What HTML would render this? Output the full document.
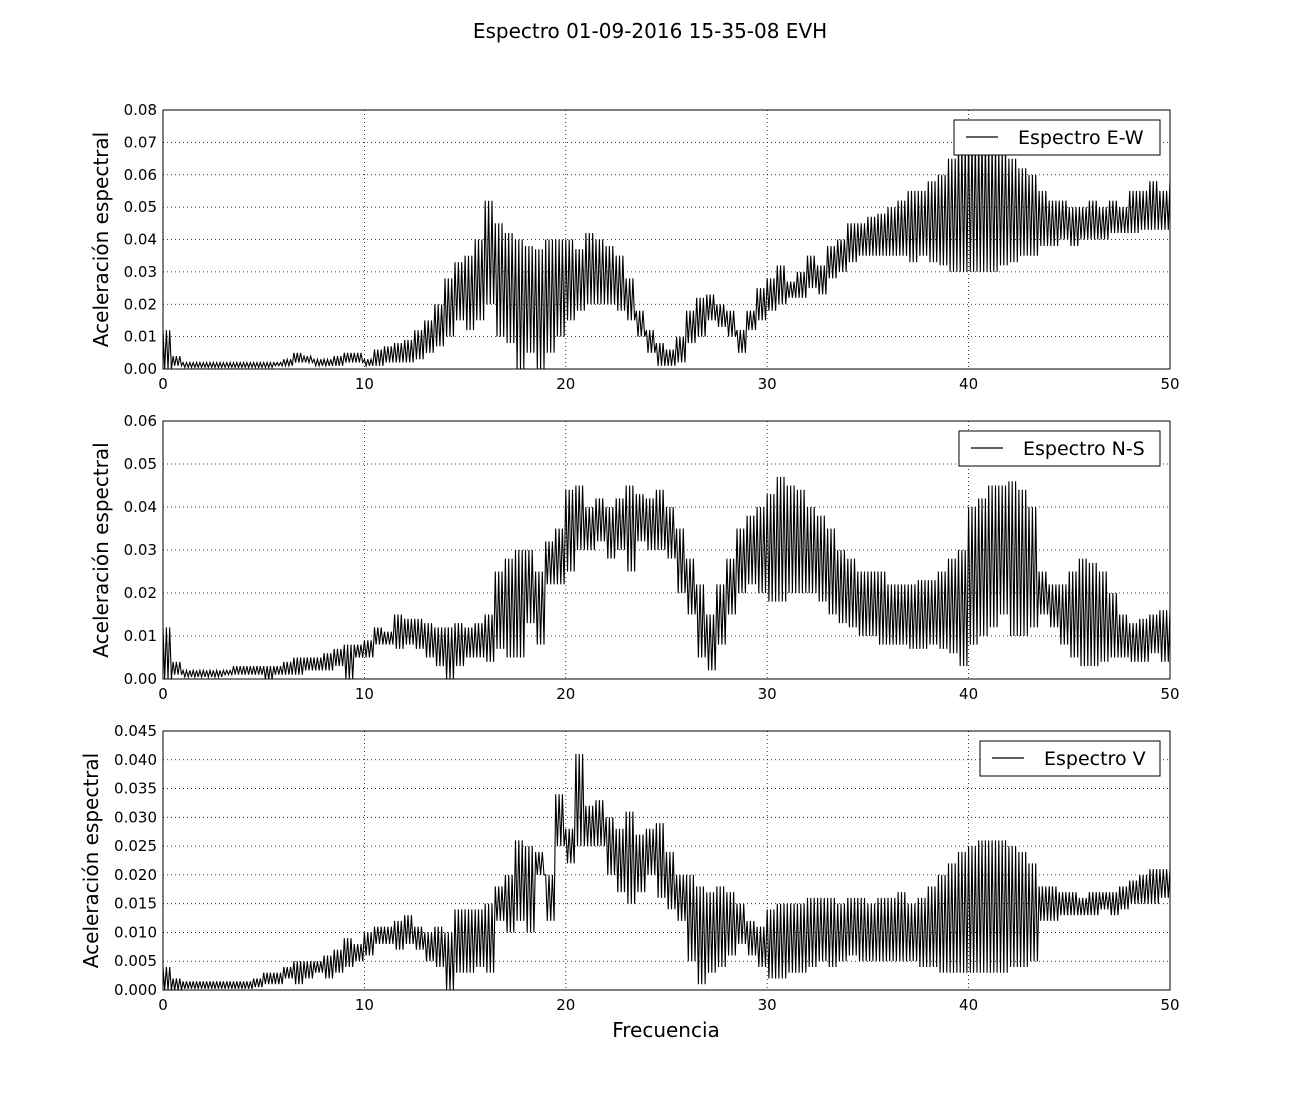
<!DOCTYPE html>
<html><head><meta charset="utf-8"><style>
body{margin:0;background:#fff;width:1300px;height:1100px;overflow:hidden}
svg text{font-family:"DejaVu Sans","Liberation Sans",sans-serif;fill:#000}
</style></head><body>
<svg id="chart" width="1300" height="1100" xmlns="http://www.w3.org/2000/svg">
<rect width="1300" height="1100" fill="#fff"/>
<text x="650" y="38" font-size="20" text-anchor="middle">Espectro 01-09-2016 15-35-08 EVH</text>
<text x="666" y="1037" font-size="20" text-anchor="middle">Frecuencia</text>
</svg>
<script>
const freqStep = 0.5;
const ewHi=[.012,.004,.002,.002,.002,.002,.002,.002,.002,.002,.002,.002,.003,.005,.004,.003,.003,.004,.005,.005,.003,.006,.007,.008,.009,.012,.015,.02,.028,.033,.035,.04,.052,.045,.042,.04,.038,.037,.04,.04,.04,.037,.042,.04,.038,.035,.028,.018,.012,.008,.006,.01,.018,.022,.023,.02,.018,.012,.018,.025,.028,.032,.027,.03,.035,.032,.038,.04,.045,.045,.047,.048,.05,.052,.055,.055,.058,.06,.065,.07,.072,.072,.07,.068,.065,.062,.06,.055,.052,.052,.05,.05,.052,.05,.052,.05,.055,.055,.058,.055,.058];
const ewLo=[0,.001,.0005,.0005,.0005,.0005,.0005,.0005,.0005,.0005,.0005,.001,.001,.002,.002,.001,.001,.001,.002,.002,.001,.001,.002,.002,.002,.003,.005,.007,.01,.015,.012,.015,.02,.01,.008,0,.005,0,.005,.01,.015,.018,.02,.02,.02,.018,.015,.01,.005,.001,.001,.002,.008,.01,.015,.013,.01,.005,.012,.015,.018,.02,.022,.022,.025,.023,.028,.03,.033,.035,.035,.035,.035,.035,.033,.035,.033,.032,.03,.03,.03,.03,.03,.032,.033,.035,.035,.038,.038,.04,.038,.04,.04,.04,.042,.042,.042,.043,.043,.043,.045];
const nsHi=[.012,.004,.002,.002,.002,.002,.002,.003,.003,.003,.003,.003,.004,.005,.005,.005,.006,.007,.008,.008,.009,.012,.011,.015,.014,.014,.013,.012,.012,.013,.012,.013,.015,.025,.028,.03,.03,.025,.032,.035,.044,.045,.04,.042,.04,.042,.045,.043,.042,.044,.04,.035,.028,.022,.015,.022,.028,.035,.038,.04,.043,.047,.045,.044,.04,.038,.035,.03,.028,.025,.025,.025,.022,.022,.022,.023,.023,.025,.028,.03,.04,.042,.045,.045,.046,.044,.04,.025,.022,.022,.025,.028,.027,.025,.02,.015,.013,.014,.015,.016,.016];
const nsLo=[0,.001,.0005,.0005,.0005,.0005,.001,.001,.001,.001,0,.001,.001,.001,.002,.002,.002,.003,0,.005,.005,.008,.008,.007,.008,.007,.005,.003,0,.003,.005,.005,.004,.007,.005,.005,.013,.008,.022,.022,.025,.03,.03,.032,.028,.03,.025,.032,.03,.03,.028,.02,.015,.005,.002,.008,.015,.02,.022,.02,.018,.018,.02,.02,.02,.018,.015,.013,.012,.01,.01,.008,.008,.008,.007,.007,.008,.007,.006,.003,.008,.01,.012,.015,.01,.01,.012,.015,.012,.008,.005,.003,.003,.004,.005,.005,.004,.004,.006,.004,.003];
const vHi=[.004,.002,.0015,.0015,.0015,.0015,.0015,.0015,.0015,.002,.003,.003,.004,.005,.005,.005,.006,.007,.009,.008,.01,.011,.011,.012,.013,.011,.01,.011,.01,.014,.014,.014,.015,.018,.02,.026,.025,.024,.02,.034,.028,.041,.032,.033,.03,.028,.031,.027,.028,.029,.024,.02,.02,.018,.017,.018,.017,.015,.012,.011,.014,.015,.015,.015,.016,.016,.016,.015,.016,.016,.015,.016,.016,.017,.015,.016,.018,.02,.022,.024,.025,.026,.026,.026,.025,.024,.022,.018,.018,.017,.017,.016,.017,.017,.017,.018,.019,.02,.021,.021,.021];
const vLo=[0,0,.0002,.0002,.0002,.0002,.0002,.0002,.0002,.0005,.001,.001,.002,.001,.002,.003,.002,.003,.004,.005,.006,.008,.008,.007,.008,.007,.005,.004,0,.003,.003,.004,.003,.012,.01,.012,.01,.02,.012,.025,.022,.025,.025,.025,.02,.017,.015,.017,.02,.016,.014,.012,.005,.001,.003,.004,.006,.008,.006,.004,.002,.002,.003,.003,.004,.005,.004,.005,.006,.005,.005,.005,.005,.005,.005,.004,.004,.003,.003,.003,.003,.003,.003,.003,.004,.004,.005,.012,.012,.013,.013,.013,.013,.014,.013,.014,.015,.015,.015,.016,.015];
const xTicks=[0,10,20,30,40,50];
const panels=[
 {name:"ew",top:110,bottom:369,ymax:0.08,ticks:[0,.01,.02,.03,.04,.05,.06,.07,.08],dec:2,hi:ewHi,lo:ewLo,legend:"Espectro E-W",lx:954,tx:108},
 {name:"ns",top:421,bottom:679,ymax:0.06,ticks:[0,.01,.02,.03,.04,.05,.06],dec:2,hi:nsHi,lo:nsLo,legend:"Espectro N-S",lx:959,tx:108},
 {name:"v",top:731,bottom:990,ymax:0.045,ticks:[0,.005,.01,.015,.02,.025,.03,.035,.04,.045],dec:3,hi:vHi,lo:vLo,legend:"Espectro V",lx:980,tx:98}
];
const svg=document.getElementById('chart');
const NS='http://www.w3.org/2000/svg';
const L=163,R=1170;
function xs(f){return L+(f/50)*(R-L);}
function mk(tag,attrs,parent){const e=document.createElementNS(NS,tag);for(const k in attrs)e.setAttribute(k,attrs[k]);(parent||svg).appendChild(e);return e;}
panels.forEach(p=>{
 const g=mk('g',{});
 
 
 const ys=v=>p.bottom-(v/p.ymax)*(p.bottom-p.top);
 xTicks.forEach(t=>{
  const x=xs(t);
  if(t>0&&t<50){const gl=mk('line',{x1:x,x2:x,y1:p.top,y2:p.bottom,stroke:'#000','stroke-width':0.8,'stroke-dasharray':'1,3'},g);
   }
  const tl=mk('text',{x:x,y:p.bottom+20,'font-size':15,'text-anchor':'middle'},g);tl.textContent=t;
  
 });
 p.ticks.forEach(t=>{
  const y=ys(t);
  if(t>0&&t<p.ymax-1e-9){const gl=mk('line',{x1:L,x2:R,y1:y,y2:y,stroke:'#000','stroke-width':0.8,'stroke-dasharray':'1,3'},g);
   }
  const tl=mk('text',{x:157,y:y+5,'font-size':15,'text-anchor':'end'},g);tl.textContent=t.toFixed(p.dec);
  
 });
 let d='';
 const sub=3;
 p.hi.forEach((h,i)=>{
  const f=i*freqStep;
  const n=(i<p.hi.length-1)?sub:1;
  for(let k=0;k<n;k++){
   const fh=f+k*freqStep/sub, fl=fh+freqStep/(2*sub);
   d+=(d?'L':'M')+xs(fh).toFixed(1)+','+ys(h).toFixed(1);
   if(i<p.hi.length-1)d+='L'+xs(fl).toFixed(1)+','+ys(p.lo[i]).toFixed(1);
  }
 });
 const path=mk('path',{d:d,fill:'none',stroke:'#000','stroke-width':1.1},g);
 
 const fr=mk('rect',{x:L,y:p.top,width:R-L,height:p.bottom-p.top,fill:'none',stroke:'#000','stroke-width':1},g);
 
 const yt=mk('text',{transform:`translate(${p.tx},${(p.top+p.bottom)/2}) rotate(-90)`,'font-size':20,'text-anchor':'middle'},g);
 yt.textContent='Aceleración espectral';
 
 const lg=mk('g',{},g);
 
 mk('rect',{x:p.lx,y:p.top+10,width:1160-p.lx,height:35,fill:'#fff',stroke:'#000','stroke-width':1},lg);
 mk('line',{x1:p.lx+12,x2:p.lx+44,y1:p.top+27,y2:p.top+27,stroke:'#000','stroke-width':1.2},lg);
 const lt=mk('text',{x:p.lx+64,y:p.top+34,'font-size':19},lg);lt.textContent=p.legend;
 
});
</script>
</body></html>
